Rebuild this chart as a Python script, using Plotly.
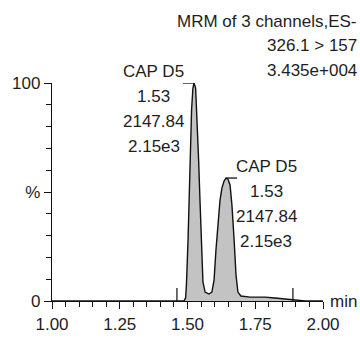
import plotly.graph_objects as go

# ---- data ----
times = [1.00, 1.487, 1.493, 1.496, 1.502, 1.506, 1.509, 1.515, 1.520, 1.524,
         1.530, 1.535, 1.541, 1.546, 1.552, 1.557, 1.565, 1.579, 1.590, 1.598,
         1.605, 1.613, 1.620, 1.627, 1.635, 1.642, 1.649, 1.657, 1.664, 1.672,
         1.679, 1.686, 1.697, 1.731, 1.786, 1.823, 1.860, 1.897, 1.934, 2.00]
intensity = [0, 0, 1.4, 7.3, 28.0, 48.6, 69.3, 87.6, 97.7, 100,
             97.7, 85.3, 64.7, 46.3, 23.4, 8.7, 4.1, 3.2, 4.1, 9.6,
             23.4, 37.2, 46.3, 51.8, 55.0, 56.4, 56.0, 53.2, 44.0, 28.0,
             11.9, 4.1, 2.3, 1.8, 1.8, 1.4, 0.9, 0.2, 0, 0]

integration_marks = [1.461, 1.889]
integration_mark_height = 6

peak_times = [1.524, 1.642]
peak_heights = [100, 56.4]
peak_names = ["CAP D5", "CAP D5"]
peak_rt = ["1.53", "1.53"]
peak_area = ["2147.84", "2147.84"]
peak_ht = ["2.15e3", "2.15e3"]

header_lines = ["MRM of 3 channels,ES-", "326.1 > 157", "3.435e+004"]

x_tickvals = [1.00, 1.25, 1.50, 1.75, 2.00]
x_ticktext = ["1.00", "1.25", "1.50", "1.75", "2.00"]
y_tickvals = [0, 50, 100]
y_ticktext = ["0", "%", "100"]

FONT = "Liberation Sans, Arial, sans-serif"
FS = 17
TXT = "#1e1e1e"
LINE_PX = 25.3

fig = go.Figure()

fig.add_trace(go.Scatter(
    x=times, y=intensity, mode="lines", fill="tozeroy",
    fillcolor="#c3c3c3", line=dict(color="#111111", width=1.4),
    cliponaxis=False, showlegend=False, hoverinfo="skip"))

for t in integration_marks:
    fig.add_trace(go.Scatter(
        x=[t, t], y=[0, integration_mark_height], mode="lines",
        line=dict(color="#111111", width=1.2), showlegend=False,
        hoverinfo="skip", cliponaxis=False))

# label connectors: peak 1 label to the left, peak 2 label to the right
label_side = [-1, 1]
conn_len = 0.041
for i, (pt, ph) in enumerate(zip(peak_times, peak_heights)):
    x_end = pt + label_side[i] * conn_len
    fig.add_trace(go.Scatter(
        x=[x_end, pt], y=[ph, ph], mode="lines",
        line=dict(color="#111111", width=1.3), showlegend=False,
        hoverinfo="skip", cliponaxis=False))
    lines = [peak_names[i], peak_rt[i], peak_area[i], peak_ht[i]]
    for k, s in enumerate(lines):
        fig.add_annotation(x=x_end, y=ph, xref="x", yref="y", text=s,
                           showarrow=False, xanchor="center", yanchor="middle",
                           xshift=29 * label_side[i],
                           yshift=12 - k * LINE_PX,
                           font=dict(family=FONT, size=FS, color=TXT))

for k, s in enumerate(header_lines):
    fig.add_annotation(x=1, y=1, xref="paper", yref="paper", text=s,
                       showarrow=False, xanchor="right", yanchor="middle",
                       xshift=36, yshift=62 - k * 24.5,
                       font=dict(family=FONT, size=FS, color=TXT))

fig.add_annotation(x=1, y=0, xref="paper", yref="y", text="min",
                   showarrow=False, xanchor="left", yanchor="middle",
                   xshift=5, font=dict(family=FONT, size=FS, color=TXT))

fig.update_xaxes(range=[1.0, 2.0], showline=True, linecolor="#111111",
                 linewidth=1.3, showgrid=False, zeroline=False, automargin=False,
                 tickmode="array", tickvals=x_tickvals, ticktext=x_ticktext,
                 ticks="outside", ticklen=7, tickwidth=1.2, tickcolor="#111111",
                 minor=dict(dtick=0.05, ticks="outside", ticklen=5,
                            tickwidth=1.2, tickcolor="#111111"),
                 tickfont=dict(family=FONT, size=FS, color=TXT))
fig.update_yaxes(range=[0, 100], showline=True, linecolor="#111111",
                 linewidth=1.3, showgrid=False, zeroline=False, automargin=False,
                 tickmode="array", tickvals=y_tickvals, ticktext=y_ticktext,
                 ticks="outside", ticklen=7, tickwidth=1.2, tickcolor="#111111",
                 minor=dict(dtick=10, ticks="outside", ticklen=5,
                            tickwidth=1.2, tickcolor="#111111"),
                 tickfont=dict(family=FONT, size=FS, color=TXT))

fig.update_layout(width=360, height=338, template="none",
                  margin=dict(l=52, r=37, t=83, b=37),
                  plot_bgcolor="white", paper_bgcolor="white",
                  showlegend=False)

fig.write_html("out.html")
